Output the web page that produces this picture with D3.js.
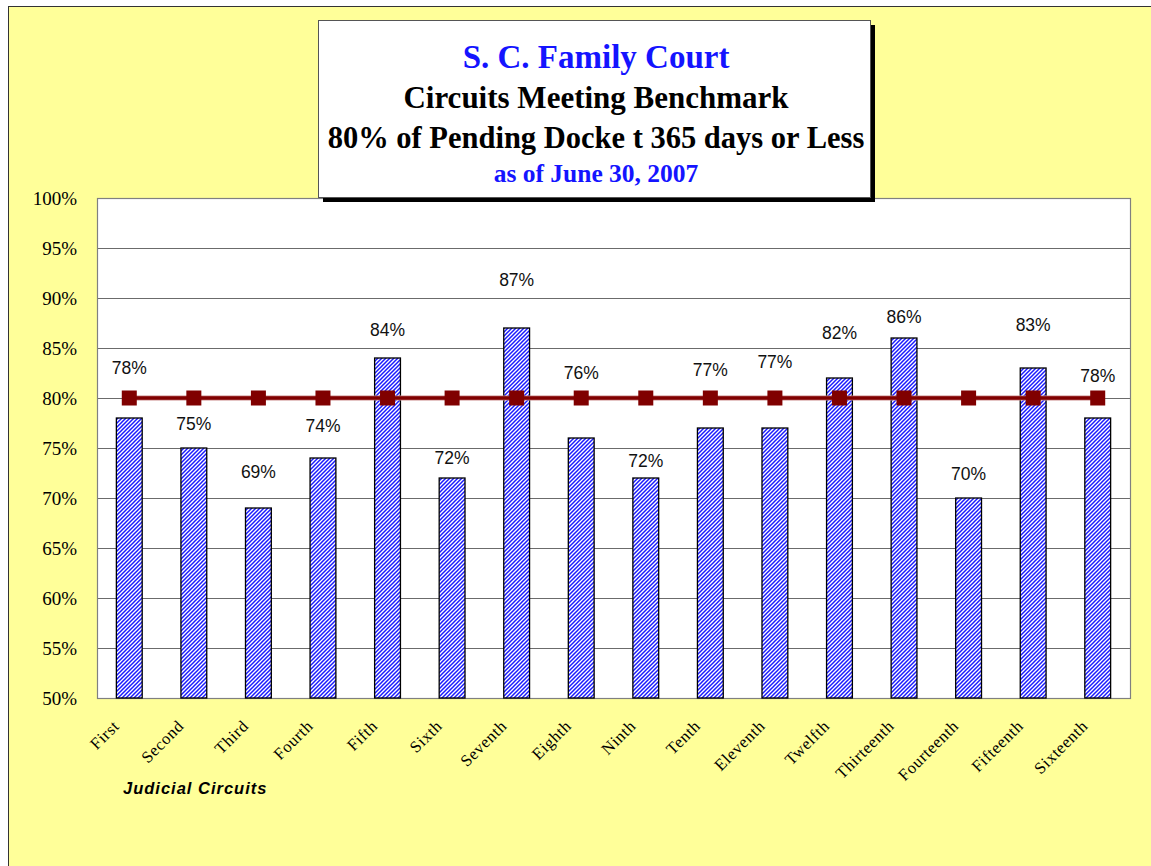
<!DOCTYPE html>
<html>
<head>
<meta charset="utf-8">
<script src="https://cdn.jsdelivr.net/npm/d3@7"></script>
<style>
  html, body { margin: 0; padding: 0; background: #fff; }
  svg { display: block; }
</style>
</head>
<body>
<div id="chart"></div>
<script>
const WIDTH = 1151;
const HEIGHT = 866;

// data
const circuits = ['First', 'Second', 'Third', 'Fourth', 'Fifth', 'Sixth', 'Seventh', 'Eighth',
  'Ninth', 'Tenth', 'Eleventh', 'Twelfth', 'Thirteenth', 'Fourteenth', 'Fifteenth', 'Sixteenth'];
const pctPending = [78, 75, 69, 74, 84, 72, 87, 76, 72, 77, 77, 82, 86, 70, 83, 78];
const benchmark = [80, 80, 80, 80, 80, 80, 80, 80, 80, 80, 80, 80, 80, 80, 80, 80];
const yTicks = [50, 55, 60, 65, 70, 75, 80, 85, 90, 95, 100];
const titleLines = ['S. C. Family Court', 'Circuits Meeting Benchmark',
  '80% of Pending Docke t 365 days or Less', 'as of June 30, 2007'];

// the value labels were hand placed in the original, lift above bar top in px
const labelLift = [44, 18, 30, 26, 22, 14, 42, 59, 11, 52, 60, 39, 15, 18, 37, 36];

const plot = { left: 97, right: 1130, top: 198, bottom: 698 };

const svg = d3.select('#chart').append('svg')
  .attr('width', WIDTH)
  .attr('height', HEIGHT);

const defs = svg.append('defs');
const pat = defs.append('pattern')
  .attr('id', 'stripes')
  .attr('patternUnits', 'userSpaceOnUse')
  .attr('width', 4).attr('height', 4);
pat.append('rect').attr('width', 4).attr('height', 4).attr('fill', '#fff');
pat.append('path')
  .attr('d', 'M-1,5 L5,-1 M-1,1 L1,-1 M3,5 L5,3')
  .attr('stroke', '#1a1aff')
  .attr('stroke-width', 1.5);

// outer chart area
svg.append('rect')
  .attr('x', 8.5).attr('y', 6.5)
  .attr('width', WIDTH).attr('height', HEIGHT)
  .attr('fill', '#ffff99')
  .attr('stroke', '#333');

const x = d3.scaleBand()
  .domain(circuits)
  .range([plot.left, plot.right])
  .paddingInner(0.6)
  .paddingOuter(0.3);

const y = d3.scaleLinear()
  .domain([50, 100])
  .range([plot.bottom, plot.top]);

svg.append('rect')
  .attr('x', plot.left).attr('y', plot.top)
  .attr('width', plot.right - plot.left)
  .attr('height', plot.bottom - plot.top)
  .attr('fill', '#fff');

// gridlines
svg.append('g')
  .attr('transform', `translate(${plot.left},0)`)
  .call(d3.axisLeft(y).tickValues(yTicks).tickSize(-(plot.right - plot.left)).tickFormat(''))
  .call(g => g.select('.domain').remove())
  .call(g => g.selectAll('line').attr('stroke', '#6b6b6b').attr('stroke-width', 1.2));

svg.append('rect')
  .attr('x', plot.left + 0.5).attr('y', plot.top + 0.5)
  .attr('width', plot.right - plot.left)
  .attr('height', plot.bottom - plot.top)
  .attr('fill', 'none')
  .attr('stroke', '#808080')
  .attr('stroke-width', 1.2);

// y tick labels
svg.append('g')
  .attr('transform', `translate(${plot.left},0)`)
  .call(d3.axisLeft(y).tickValues(yTicks).tickSize(0).tickPadding(20).tickFormat(d => d + '%'))
  .call(g => g.select('.domain').remove())
  .call(g => g.selectAll('text')
    .attr('font-family', '"Liberation Serif", "Times New Roman", serif')
    .attr('font-size', 19)
    .attr('fill', '#000'));

// bars
svg.append('g').selectAll('rect')
  .data(pctPending)
  .join('rect')
  .attr('x', (d, i) => x(circuits[i]))
  .attr('y', d => y(d))
  .attr('width', x.bandwidth())
  .attr('height', d => y(50) - y(d))
  .attr('fill', 'url(#stripes)')
  .attr('stroke', '#000')
  .attr('stroke-width', 1.3);

// benchmark line
const cx = i => x(circuits[i]) + x.bandwidth() / 2;
const line = d3.line()
  .x((d, i) => cx(i))
  .y(d => y(d));

svg.append('path')
  .datum(benchmark)
  .attr('d', line)
  .attr('fill', 'none')
  .attr('stroke', '#c98a8a')
  .attr('stroke-width', 5);
svg.append('path')
  .datum(benchmark)
  .attr('d', line)
  .attr('fill', 'none')
  .attr('stroke', '#800000')
  .attr('stroke-width', 3.5);

svg.append('g').selectAll('rect')
  .data(benchmark)
  .join('rect')
  .attr('x', (d, i) => cx(i) - 7.5)
  .attr('y', d => y(d) - 7.5)
  .attr('width', 15)
  .attr('height', 15)
  .attr('fill', '#800000');

// value labels
svg.append('g').selectAll('text')
  .data(pctPending)
  .join('text')
  .attr('x', (d, i) => cx(i))
  .attr('y', (d, i) => y(d) - labelLift[i])
  .attr('text-anchor', 'middle')
  .attr('font-family', '"Liberation Sans", Arial, sans-serif')
  .attr('font-size', 17.5)
  .attr('fill', '#111')
  .text(d => d + '%');

// category labels
svg.append('g').selectAll('text')
  .data(circuits)
  .join('text')
  .attr('transform', (d, i) => `translate(${cx(i) - 9},${plot.bottom + 29}) rotate(-45)`)
  .attr('text-anchor', 'end')
  .attr('font-family', '"Liberation Serif", "Times New Roman", serif')
  .attr('font-size', 16.5)
  .attr('letter-spacing', 0.6)
  .attr('fill', '#000')
  .text(d => d);

svg.append('text')
  .attr('x', 123).attr('y', 794)
  .attr('font-family', '"Liberation Sans", Arial, sans-serif')
  .attr('font-size', 16.5)
  .attr('font-weight', 'bold')
  .attr('font-style', 'italic')
  .attr('letter-spacing', 1)
  .attr('fill', '#000')
  .text('Judicial Circuits');

// title box
const tb = { x: 318, y: 20, w: 552, h: 177 };
svg.append('rect')
  .attr('x', tb.x + 5).attr('y', tb.y + 5)
  .attr('width', tb.w).attr('height', tb.h)
  .attr('fill', '#000');
svg.append('rect')
  .attr('x', tb.x + 0.5).attr('y', tb.y + 0.5)
  .attr('width', tb.w).attr('height', tb.h)
  .attr('fill', '#fff')
  .attr('stroke', '#555');

const titleStyle = [
  { size: 33, color: '#1414ff', base: 68 },
  { size: 31, color: '#000', base: 108 },
  { size: 30.5, color: '#000', base: 148 },
  { size: 25.5, color: '#1414ff', base: 182 }
];
svg.append('g').selectAll('text')
  .data(titleLines)
  .join('text')
  .attr('x', tb.x + tb.w / 2 + 2)
  .attr('y', (d, i) => titleStyle[i].base)
  .attr('text-anchor', 'middle')
  .attr('font-family', '"Liberation Serif", "Times New Roman", serif')
  .attr('font-weight', 'bold')
  .attr('font-size', (d, i) => titleStyle[i].size)
  .attr('fill', (d, i) => titleStyle[i].color)
  .style('white-space', 'pre')
  .text(d => d);
</script>
</body>
</html>
